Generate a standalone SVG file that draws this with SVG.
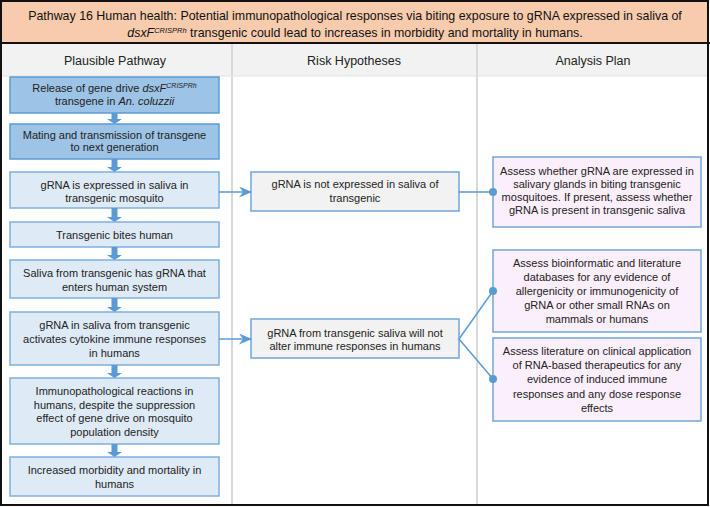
<svg xmlns="http://www.w3.org/2000/svg" width="710" height="507" viewBox="0 0 710 507">
<defs>
<style>
text{font-family:"Liberation Sans",Arial,sans-serif;fill:#222;text-anchor:middle}
.t{font-size:12.4px;fill:#111}
.h{font-size:12.5px}
.b{font-size:11px}
.dark{fill:#9DC3E6;stroke:#5B9BD5;stroke-width:1.5}
.light{fill:#DEEBF7;stroke:#7FB0DE;stroke-width:1.5}
.mid{fill:#F2F2F2;stroke:#6FA6DC;stroke-width:1.5}
.pl{fill:#FCEFFC;stroke:#6FA6DC;stroke-width:1.5}
.dn{fill:#5B9BD5}
.con{stroke:#5B9BD5;stroke-width:1.5;fill:none}
.dot{fill:#5B9BD5}
</style>
<marker id="ah" markerWidth="13" markerHeight="11" refX="12" refY="5.5" orient="auto" markerUnits="userSpaceOnUse">
<path d="M0,0 L13,5.5 L0,11 L4,5.5 z" fill="#5B9BD5"/>
</marker>
</defs>
<rect x="0" y="0" width="710" height="507" fill="#fff"/>
<g id="title">
<rect x="1" y="1" width="707" height="42" fill="#F8CBAD"/>
<text class="t" x="355" y="20">Pathway 16 Human health: Potential immunopathological responses via biting exposure to gRNA expressed in saliva of</text>
<text class="t" x="355" y="37"><tspan font-style="italic">dsxF</tspan><tspan font-style="italic" font-size="7.5px" dy="-4">CRISPRh</tspan><tspan dy="4"> transgenic could lead to increases in morbidity and mortality in humans.</tspan></text>
</g>
<g id="header">
<rect x="1" y="44" width="707" height="32" fill="#F2F2F2"/>
<text class="h" x="115" y="65">Plausible Pathway</text>
<text class="h" x="354" y="65">Risk Hypotheses</text>
<text class="h" x="593" y="65">Analysis Plan</text>
</g>
<g id="grid">
<line x1="232" y1="44" x2="232" y2="505" stroke="#D9D9D9" stroke-width="2"/>
<line x1="477" y1="44" x2="477" y2="505" stroke="#D9D9D9" stroke-width="2"/>
<line x1="1" y1="76" x2="708" y2="76" stroke="#E3E3E3" stroke-width="1"/>
<line x1="0" y1="43" x2="710" y2="43" stroke="#111" stroke-width="2"/>
<rect x="1" y="1" width="707" height="504" fill="none" stroke="#111" stroke-width="2"/>
</g>
<g id="p1"><rect class="dark" x="10" y="77" width="209" height="36"/>
<text class="b" x="114.5" y="92">Release of gene drive <tspan font-style="italic">dsxF</tspan><tspan font-style="italic" font-size="7px" dy="-4">CRISPRh</tspan></text>
<text class="b" x="114.5" y="105">transgene in <tspan font-style="italic">An. coluzzii</tspan></text></g>
<g id="p2"><rect class="dark" x="10" y="124" width="209" height="35"/>
<text class="b" x="114.5" y="139">Mating and transmission of transgene</text>
<text class="b" x="114.5" y="151">to next generation</text></g>
<g id="p3"><rect class="light" x="10" y="172" width="209" height="36"/>
<text class="b" x="114.5" y="189">gRNA is expressed in saliva in</text>
<text class="b" x="114.5" y="202">transgenic mosquito</text></g>
<g id="p4"><rect class="light" x="10" y="222" width="209" height="25"/>
<text class="b" x="114.5" y="239">Transgenic bites human</text></g>
<g id="p5"><rect class="light" x="10" y="260" width="209" height="38"/>
<text class="b" x="114.5" y="277">Saliva from transgenic has gRNA that</text>
<text class="b" x="114.5" y="291">enters human system</text></g>
<g id="p6"><rect class="light" x="10" y="312" width="209" height="53"/>
<text class="b" x="114.5" y="329">gRNA in saliva from transgenic</text>
<text class="b" x="114.5" y="343">activates cytokine immune responses</text>
<text class="b" x="114.5" y="357">in humans</text></g>
<g id="p7"><rect class="light" x="10" y="378" width="209" height="66"/>
<text class="b" x="114.5" y="395">Immunopathological reactions in</text>
<text class="b" x="114.5" y="409">humans, despite the suppression</text>
<text class="b" x="114.5" y="422">effect of gene drive on mosquito</text>
<text class="b" x="114.5" y="436">population density</text></g>
<g id="p8"><rect class="light" x="10" y="457" width="209" height="39"/>
<text class="b" x="114.5" y="474">Increased morbidity and mortality in</text>
<text class="b" x="114.5" y="488">humans</text></g>
<g id="r1"><rect class="mid" x="251" y="172" width="208" height="39"/>
<text class="b" x="355" y="188">gRNA is not expressed in saliva of</text>
<text class="b" x="355" y="202">transgenic</text></g>
<g id="r2"><rect class="mid" x="251" y="319" width="208" height="39"/>
<text class="b" x="355" y="337">gRNA from transgenic saliva will not</text>
<text class="b" x="355" y="350">alter immune responses in humans</text></g>
<g id="a1"><rect class="pl" x="493" y="157" width="208" height="70"/>
<text class="b" x="597" y="175">Assess whether gRNA are expressed in</text>
<text class="b" x="597" y="188">salivary glands in biting transgenic</text>
<text class="b" x="597" y="201">mosquitoes. If present, assess whether</text>
<text class="b" x="597" y="214">gRNA is present in transgenic saliva</text></g>
<g id="a2"><rect class="pl" x="493" y="250" width="208" height="82"/>
<text class="b" x="597" y="267">Assess bioinformatic and literature</text>
<text class="b" x="597" y="281">databases for any evidence of</text>
<text class="b" x="597" y="295">allergenicity or immunogenicity of</text>
<text class="b" x="597" y="309">gRNA or other small RNAs on</text>
<text class="b" x="597" y="323">mammals or humans</text></g>
<g id="a3"><rect class="pl" x="493" y="338" width="208" height="83"/>
<text class="b" x="597" y="355">Assess literature on clinical application</text>
<text class="b" x="597" y="369">of RNA-based therapeutics for any</text>
<text class="b" x="597" y="383">evidence of induced immune</text>
<text class="b" x="597" y="398">responses and any dose response</text>
<text class="b" x="597" y="412">effects</text></g>
<g id="connectors">
<path class="dn" d="M111.5,113 h6 v6 h4.5 l-7.5,5 l-7.5,-5 h4.5 z"/>
<path class="dn" d="M111.5,159 h6 v8 h4.5 l-7.5,5 l-7.5,-5 h4.5 z"/>
<path class="dn" d="M111.5,208 h6 v9 h4.5 l-7.5,5 l-7.5,-5 h4.5 z"/>
<path class="dn" d="M111.5,247 h6 v8 h4.5 l-7.5,5 l-7.5,-5 h4.5 z"/>
<path class="dn" d="M111.5,298 h6 v9 h4.5 l-7.5,5 l-7.5,-5 h4.5 z"/>
<path class="dn" d="M111.5,365 h6 v8 h4.5 l-7.5,5 l-7.5,-5 h4.5 z"/>
<path class="dn" d="M111.5,444 h6 v8 h4.5 l-7.5,5 l-7.5,-5 h4.5 z"/>
<line class="con" x1="219" y1="192" x2="251" y2="192" marker-end="url(#ah)"/>
<line class="con" x1="219" y1="339" x2="251" y2="339" marker-end="url(#ah)"/>
<line class="con" x1="459" y1="192" x2="493" y2="192"/>
<line class="con" x1="459" y1="339" x2="493" y2="291"/>
<line class="con" x1="459" y1="339" x2="493" y2="379"/>
<circle class="dot" cx="493" cy="192" r="4"/>
<circle class="dot" cx="493" cy="291" r="4"/>
<circle class="dot" cx="493" cy="379" r="4"/>
</g>
</svg>
